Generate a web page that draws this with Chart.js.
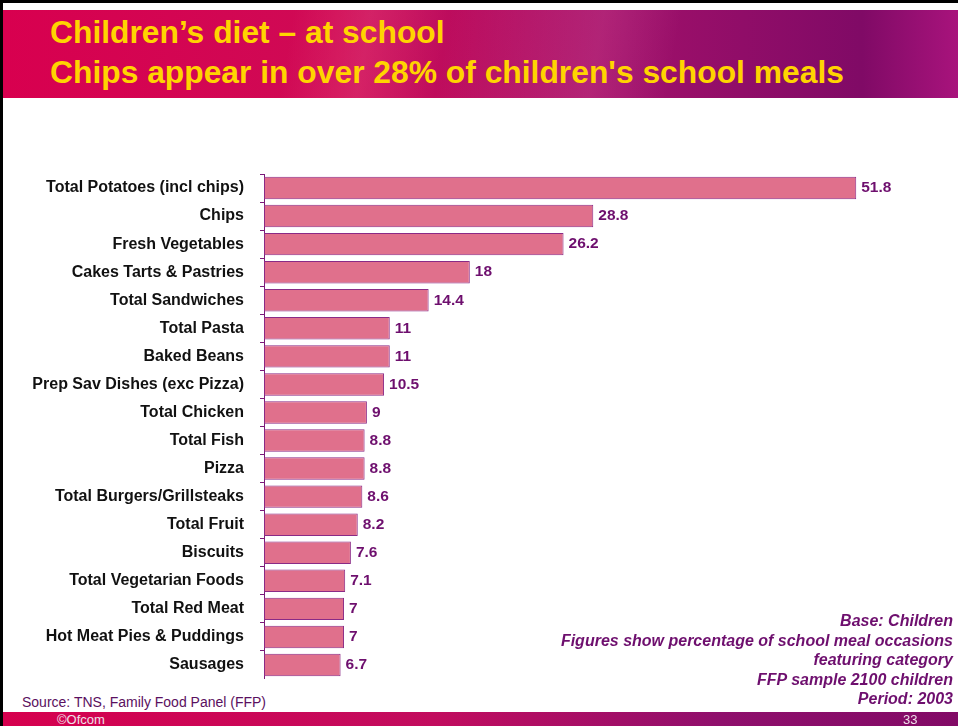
<!DOCTYPE html>
<html>
<head>
<meta charset="utf-8">
<script src="https://cdn.jsdelivr.net/npm/chart.js@4/dist/chart.umd.min.js"></script>
<style>
  html, body { margin: 0; padding: 0; background: #fff; }
  body { width: 958px; height: 726px; position: relative; overflow: hidden; font-family: 'Liberation Sans', Arial, sans-serif; }
  .frame-top { position: absolute; left: 0; top: 0; width: 958px; height: 3px; background: #000; }
  .frame-left { position: absolute; left: 0; top: 0; width: 3px; height: 726px; background: #000; }
  .header {
    position: absolute; left: 3px; top: 10px; width: 955px; height: 88px;
    background:
      linear-gradient(100deg, rgba(255,255,255,0) 30%, rgba(255,140,170,0.18) 38%, rgba(255,255,255,0) 46%, rgba(255,150,200,0.15) 62%, rgba(255,255,255,0) 70%),
      linear-gradient(90deg, #d8004f 0%, #cf0a55 35%, #a0106a 65%, #800a66 90%, #a8137c 100%);
  }
  .header h1 {
    margin: 0; position: absolute; left: 47px; color: #ffd400; font-weight: bold; font-size: 31.8px; white-space: nowrap; line-height: 36px;
  }
  .footer {
    position: absolute; left: 3px; top: 712px; width: 955px; height: 14px;
    background: linear-gradient(90deg, #d6004e 0%, #c20c5e 45%, #8f0f6c 75%, #820a66 100%);
    color: #f0e0ea; font-size: 13px; line-height: 16px;
  }
  .source { position: absolute; left: 22px; top: 694px; font-size: 14px; color: #5a1060; }
  .notes {
    position: absolute; right: 5px; top: 611px; text-align: right; color: #6e0f6e;
    font-weight: bold; font-style: italic; font-size: 16px; line-height: 19.5px;
  }
  #wrap { position: absolute; left: 0; top: 174px; width: 950px; height: 505px; }
</style>
</head>
<body>
<div class="frame-top"></div>
<div class="frame-left"></div>
<div class="header">
  <h1 style="top:4px">Children’s diet – at school</h1>
  <h1 style="top:44px">Chips appear in over 28% of children's school meals</h1>
</div>
<div id="wrap"><canvas id="chart"></canvas></div>
<div class="notes">Base: Children<br>Figures show percentage of school meal occasions<br>featuring category<br>FFP sample 2100 children<br>Period: 2003</div>
<div class="source">Source: TNS, Family Food Panel (FFP)</div>
<div class="footer"><span style="position:absolute;left:54px">©Ofcom</span><span style="position:absolute;left:900px">33</span></div>
<script>
const categories = [
  'Total Potatoes (incl chips)', 'Chips', 'Fresh Vegetables', 'Cakes Tarts & Pastries',
  'Total Sandwiches', 'Total Pasta', 'Baked Beans', 'Prep Sav Dishes (exc Pizza)',
  'Total Chicken', 'Total Fish', 'Pizza', 'Total Burgers/Grillsteaks', 'Total Fruit',
  'Biscuits', 'Total Vegetarian Foods', 'Total Red Meat', 'Hot Meat Pies & Puddings', 'Sausages'
];
const values = [51.8, 28.8, 26.2, 18, 14.4, 11, 11, 10.5, 9, 8.8, 8.8, 8.6, 8.2, 7.6, 7.1, 7, 7, 6.7];

const valueLabels = {
  id: 'valueLabels',
  afterDatasetsDraw(chart) {
    const ctx = chart.ctx;
    const meta = chart.getDatasetMeta(0);
    ctx.save();
    ctx.font = 'bold 15.5px "Liberation Sans", Arial, sans-serif';
    ctx.fillStyle = '#6e0f6e';
    ctx.textAlign = 'left';
    ctx.textBaseline = 'middle';
    meta.data.forEach((bar, i) => {
      ctx.fillText(String(values[i]), bar.x + 5, bar.y);
    });
    ctx.restore();
  }
};

new Chart(document.getElementById('chart'), {
  type: 'bar',
  data: {
    labels: categories,
    datasets: [{
      data: values,
      backgroundColor: '#e0708c',
      borderColor: '#8a2a86',
      borderWidth: 1,
      borderSkipped: false,
      categoryPercentage: 0.8,
      barPercentage: 1
    }]
  },
  options: {
    indexAxis: 'y',
    responsive: true,
    maintainAspectRatio: false,
    animation: false,
    layout: { padding: 0 },
    plugins: { legend: { display: false }, tooltip: { enabled: false } },
    scales: {
      x: { display: false, min: 0, max: 60 },
      y: {
        afterFit(axis) {
          axis.width = 264;
          axis.paddingTop = 0;
          axis.paddingBottom = 0;
        },
        border: { color: '#7a1a7a', width: 1 },
        grid: { offset: true, drawOnChartArea: false, tickLength: 4, color: '#7a1a7a' },
        ticks: {
          color: '#111',
          padding: 16,
          autoSkip: false,
          font: { family: '"Liberation Sans", Arial, sans-serif', size: 16, weight: 'bold' }
        }
      }
    }
  },
  plugins: [valueLabels]
});
</script>
</body>
</html>
